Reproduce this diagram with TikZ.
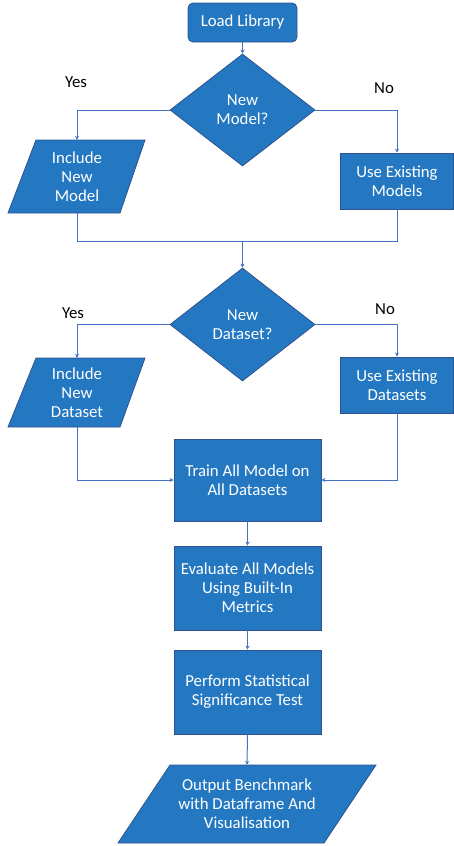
\documentclass[tikz,border=0pt]{standalone}
\usepackage{fontspec}
\setmainfont{Carlito}
\usetikzlibrary{shapes.geometric,arrows.meta}
\definecolor{boxfill}{RGB}{36,120,194}
\definecolor{boxdraw}{RGB}{47,82,143}
\definecolor{linec}{RGB}{68,114,196}
\tikzset{
  txt/.style={font=\fontsize{16.8}{19}\selectfont, text=white, align=center, inner sep=0pt},
  procbox/.style={txt, rectangle, fill=boxfill, draw=boxdraw, line width=0.8pt},
  shapefill/.style={fill=boxfill, draw=boxdraw, line width=0.8pt},
  lbl/.style={font=\fontsize{16.8}{19}\selectfont, text=black, inner sep=0pt},
  conn/.style={draw=linec, line width=1pt},
  arr/.style={conn, -{Stealth[length=4pt,width=4pt]}}
}
\begin{document}
\begin{tikzpicture}[x=1pt,y=-1pt]
\useasboundingbox (0,0) rectangle (454,846);
% Load Library
\node[procbox, rounded corners=5pt, minimum width=109pt, minimum height=39pt] (load) at (242.5,22.5) {Load Library};
% Diamond 1
\node[txt, diamond, shapefill, minimum width=145pt, minimum height=112pt] (d1) at (242.5,110) {New\\Model?};
% Include New Model (parallelogram)
\path[shapefill] (8,213) -- (36,140) -- (145,140) -- (120,213) -- cycle;
\node[txt, minimum width=80pt, minimum height=73pt] (inm) at (77,176.5) {Include\\New\\Model};
% Use Existing Models
\node[procbox, minimum width=113pt, minimum height=56pt] (uem) at (397,181) {Use Existing\\Models};
% Diamond 2
\node[txt, diamond, shapefill, minimum width=145pt, minimum height=113pt] (d2) at (242.5,324.5) {New\\Dataset?};
% Include New Dataset
\path[shapefill] (8,427) -- (36,358) -- (145,358) -- (120,427) -- cycle;
\node[txt, minimum width=80pt, minimum height=69pt] (ind) at (77,392.5) {Include\\New\\Dataset};
% Use Existing Datasets
\node[procbox, minimum width=113pt, minimum height=56pt] (ued) at (397,385) {Use Existing\\Datasets};
% Train
\node[procbox, minimum width=147pt, minimum height=82pt] (train) at (247.5,480) {Train All Model on\\All Datasets};
% Evaluate
\node[procbox, minimum width=147pt, minimum height=84pt] (eval) at (247.5,588) {Evaluate All Models\\Using Built-In\\Metrics};
% Perform
\node[procbox, minimum width=147pt, minimum height=84pt] (perf) at (247.5,692) {Perform Statistical\\Significance Test};
% Output
\path[shapefill] (118,843) -- (170,765) -- (376,765) -- (324,843) -- cycle;
\node[txt, minimum width=150pt, minimum height=78pt] (out) at (247,804) {Output Benchmark\\with Dataframe And\\Visualisation};
% Labels
\node[lbl] (yes1) at (76,82) {Yes};
\node[lbl] (no1) at (384,88) {No};
\node[lbl] (yes2) at (73,313) {Yes};
\node[lbl] (no2) at (385,309) {No};
% Coordinates
\coordinate (m1) at (242.5,241);
% Connectors
\draw[arr] (load.south) -- (d1.north);
\draw[arr] (d1.west) -| (inm.north);
\draw[arr] (d1.east) -| (uem.north);
\draw[conn] (inm.south) |- (m1);
\draw[conn] (uem.south) |- (m1);
\draw[arr] (m1) -- (d2.north);
\draw[arr] (d2.west) -| (ind.north);
\draw[arr] (d2.east) -| (ued.north);
\draw[arr] (ind.south) |- (train.west);
\draw[arr] (ued.south) |- (train.east);
\draw[arr] (train.south) -- (eval.north);
\draw[arr] (eval.south) -- (perf.north);
\draw[arr] (perf.south) -- (out.north);
\end{tikzpicture}
\end{document}
